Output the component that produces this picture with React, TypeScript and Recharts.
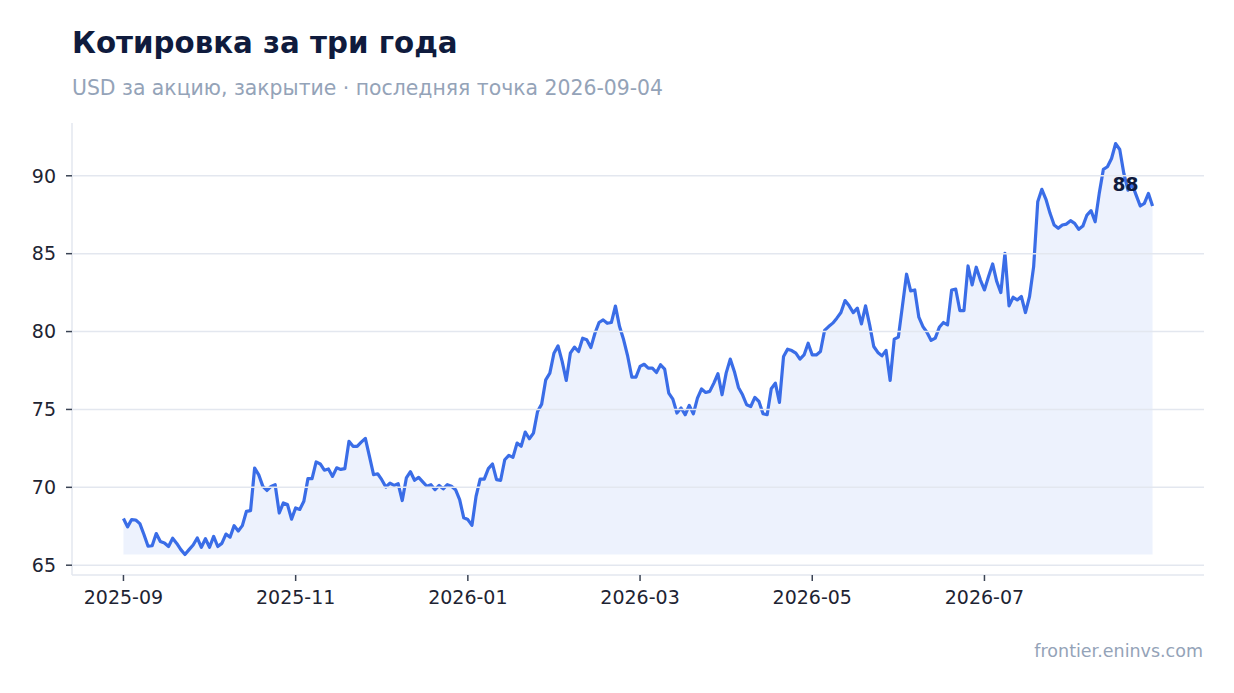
import React from "react"
import {
  ComposedChart,
  Area,
  XAxis,
  YAxis,
  ReferenceLine,
  LabelList,
} from "recharts"

// closing prices, two months per array (42 points each)
const sepOct2025 = [
  68.0, 67.46, 67.93, 67.9, 67.67, 66.97, 66.22, 66.25, 67.03, 66.52, 66.43,
  66.2, 66.73, 66.4, 66.0, 65.69, 66.0, 66.3, 66.75, 66.15, 66.7, 66.15, 66.85,
  66.2, 66.4, 67.0, 66.8, 67.54, 67.2, 67.54, 68.46, 68.5, 71.24, 70.8, 70.06,
  69.8, 70.06, 70.17, 68.35, 69.0, 68.9, 67.96,
]
const novDec2025 = [
  68.68, 68.58, 69.1, 70.56, 70.56, 71.63, 71.5, 71.1, 71.18, 70.7, 71.25,
  71.15, 71.2, 72.95, 72.63, 72.63, 72.9, 73.14, 71.99, 70.81, 70.87, 70.49,
  70.02, 70.27, 70.12, 70.23, 69.15, 70.6, 71.0, 70.45, 70.64, 70.35, 70.07,
  70.17, 69.85, 70.12, 69.9, 70.17, 70.07, 69.85, 69.21, 68.04,
]
const janFeb2026 = [
  67.93, 67.56, 69.42, 70.53, 70.53, 71.2, 71.5, 70.49, 70.45, 71.77, 72.05,
  71.92, 72.84, 72.63, 73.55, 73.12, 73.48, 74.87, 75.34, 76.9, 77.33, 78.61,
  79.08, 78.08, 76.86, 78.61, 79.0, 78.72, 79.57, 79.47, 78.97, 79.89, 80.58,
  80.75, 80.53, 80.58, 81.64, 80.32, 79.47, 78.4, 77.07, 77.07,
]
const marApr2026 = [
  77.76, 77.9, 77.65, 77.65, 77.37, 77.87, 77.59, 76.05, 75.66, 74.77, 75.09,
  74.66, 75.26, 74.72, 75.73, 76.31, 76.09, 76.16, 76.69, 77.29, 75.94, 77.33,
  78.23, 77.44, 76.41, 75.94, 75.3, 75.19, 75.77, 75.51, 74.72, 74.66, 76.33,
  76.69, 75.45, 78.4, 78.87, 78.78, 78.61, 78.23, 78.5, 79.25,
]
const mayJun2026 = [
  78.5, 78.5, 78.72, 80.07, 80.32, 80.54, 80.86, 81.22, 81.99, 81.65, 81.22,
  81.5, 80.49, 81.65, 80.43, 79.04, 78.66, 78.44, 78.79, 76.86, 79.51, 79.64,
  81.65, 83.68, 82.61, 82.67, 80.92, 80.32, 79.94, 79.43, 79.58, 80.28, 80.58,
  80.43, 82.67, 82.72, 81.35, 81.35, 84.21, 82.99, 84.13, 83.32,
]
const julAug2026 = [
  82.67, 83.53, 84.34, 83.21, 82.5, 85.02, 81.65, 82.2, 82.03, 82.25, 81.22,
  82.25, 84.17, 88.33, 89.13, 88.49, 87.59, 86.84, 86.63, 86.84, 86.9, 87.12,
  86.95, 86.56, 86.77, 87.48, 87.76, 87.05, 88.87, 90.41, 90.58, 91.11, 92.07,
  91.69, 90.15, 89.08, 89.47, 88.76, 88.06, 88.23, 88.87, 88.06,
]

const tickIndex = [0, 42, 84, 126, 168, 210]
const tickLabels = ["2025-09", "2025-11", "2026-01", "2026-03", "2026-05", "2026-07"]
const yTicks = [65, 70, 75, 80, 85, 90]

const closes = [
  ...sepOct2025,
  ...novDec2025,
  ...janFeb2026,
  ...marApr2026,
  ...mayJun2026,
  ...julAug2026,
]
const data = closes.map((close, i) => ({ i, close }))

const lo = Math.min(...closes)
const hi = Math.max(...closes)
const padY = (hi - lo) * 0.05
const padX = (closes.length - 1) * 0.05
const last = closes.length - 1

const FONT = "'DejaVu Sans', sans-serif"
const BLUE = "#3a6de7"
const GRID = "#e3e7ef"

const LastLabel = (props: any) => {
  const { x, y, index } = props
  if (index !== last) return null
  return (
    <text
      x={x - 27}
      y={y - 15}
      textAnchor="middle"
      fontFamily={FONT}
      fontWeight="bold"
      fontSize={18.67}
      fill="#0f1b3d"
    >
      {Math.round(closes[last])}
    </text>
  )
}

export default function App() {
  const tickStyle = { fontFamily: FONT, fontSize: 19, fill: "#1e2433" }
  return (
    <div
      style={{
        position: "relative",
        width: 1234,
        height: 693,
        margin: -8,
        background: "#fff",
        fontFamily: FONT,
      }}
    >
      <ComposedChart
        width={1234}
        height={693}
        data={data}
        margin={{ top: 123, right: 30, bottom: 78, left: 12 }}
        style={{ position: "absolute", left: 0, top: 0 }}
      >
        {yTicks.map((t) => (
          <ReferenceLine key={t} y={t} stroke={GRID} strokeWidth={1.5} />
        ))}
        <XAxis
          dataKey="i"
          type="number"
          domain={[-padX, last + padX]}
          ticks={tickIndex}
          tickFormatter={(v: number) => tickLabels[tickIndex.indexOf(v)]}
          height={40}
          tickSize={6}
          tickMargin={10}
          tick={tickStyle}
          axisLine={{ stroke: GRID, strokeWidth: 1.5 }}
          tickLine={{ stroke: "#3a4354", strokeWidth: 1.5 }}
        />
        <YAxis
          type="number"
          domain={[lo - padY, hi + padY]}
          ticks={yTicks}
          width={60}
          tickSize={6}
          tickMargin={10}
          tick={tickStyle}
          axisLine={{ stroke: GRID, strokeWidth: 1.5 }}
          tickLine={{ stroke: "#3a4354", strokeWidth: 1.5 }}
        />
        <Area
          type="linear"
          dataKey="close"
          baseValue={lo}
          stroke={BLUE}
          strokeWidth={3.2}
          strokeLinejoin="round"
          fill={BLUE}
          fillOpacity={0.09}
          dot={false}
          activeDot={false}
          isAnimationActive={false}
        >
          <LabelList dataKey="close" content={LastLabel} />
        </Area>
      </ComposedChart>
      <div
        style={{
          position: "absolute",
          left: 72,
          top: 29,
          fontSize: 29.3,
          lineHeight: 1,
          fontWeight: "bold",
          color: "#0f1b3d",
          whiteSpace: "nowrap",
        }}
      >
        Котировка за три года
      </div>
      <div
        style={{
          position: "absolute",
          left: 72,
          top: 78,
          fontSize: 20.4,
          lineHeight: 1,
          color: "#94a3b8",
          whiteSpace: "nowrap",
        }}
      >
        USD за акцию, закрытие · последняя точка 2026-09-04
      </div>
      <div
        style={{
          position: "absolute",
          right: 31,
          top: 643,
          fontSize: 17.5,
          lineHeight: 1,
          color: "#94a3b8",
          whiteSpace: "nowrap",
        }}
      >
        frontier.eninvs.com
      </div>
    </div>
  )
}
